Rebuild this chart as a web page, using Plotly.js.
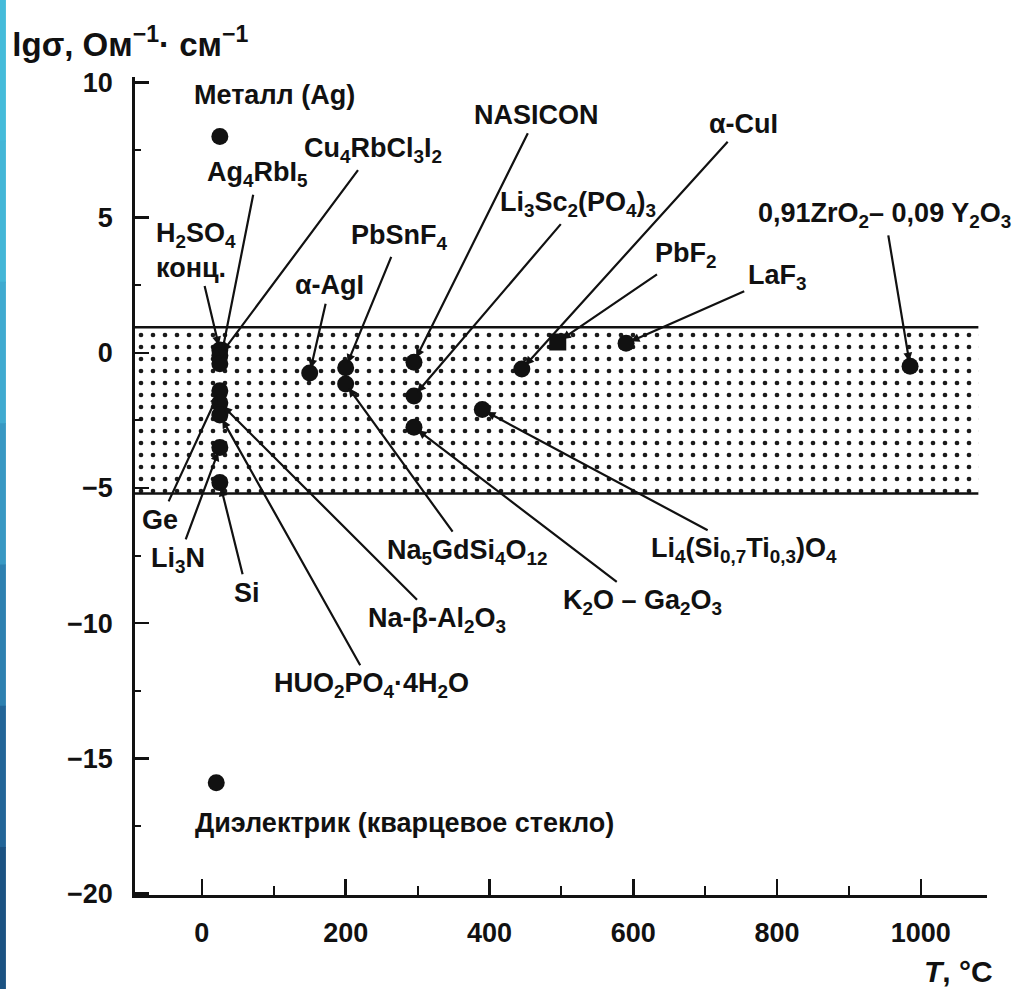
<!DOCTYPE html>
<html>
<head>
<meta charset="utf-8">
<script src="https://cdn.plot.ly/plotly-3.0.1.min.js"></script>
<style>html,body{margin:0;padding:0;background:#fff;}#chart{width:1030px;height:989px;}</style>
</head>
<body>
<div id="chart"></div>
<script>
// ---- data ----
const materials = [
  'Металл (Ag)',
  'H<sub>2</sub>SO<sub>4</sub><br>конц.',
  'Cu<sub>4</sub>RbCl<sub>3</sub>I<sub>2</sub>',
  'Ag<sub>4</sub>RbI<sub>5</sub>',
  'Ge',
  'Na-β-Al<sub>2</sub>O<sub>3</sub>',
  'HUO<sub>2</sub>PO<sub>4</sub>·4H<sub>2</sub>O',
  'Li<sub>3</sub>N',
  'Si',
  'Диэлектрик (кварцевое стекло)',
  'α-AgI',
  'PbSnF<sub>4</sub>',
  'Na<sub>5</sub>GdSi<sub>4</sub>O<sub>12</sub>',
  'NASICON',
  'Li<sub>3</sub>Sc<sub>2</sub>(PO<sub>4</sub>)<sub>3</sub>',
  'K<sub>2</sub>O – Ga<sub>2</sub>O<sub>3</sub>',
  'Li<sub>4</sub>(Si<sub>0,7</sub>Ti<sub>0,3</sub>)O<sub>4</sub>',
  'α-CuI',
  'PbF<sub>2</sub>',
  'LaF<sub>3</sub>',
  '0,91ZrO<sub>2</sub>– 0,09 Y<sub>2</sub>O<sub>3</sub>'
];
const tempC   = [25, 25, 25, 25, 25, 25, 25, 25, 25, 20, 150, 200, 200, 295, 295, 295, 390, 445, 495, 590, 985];
const lgSigma = [8.0, 0.1, -0.1, -0.4, -1.4, -1.85, -2.3, -3.5, -4.8, -15.9, -0.75, -0.55, -1.15, -0.35, -1.6, -2.75, -2.1, -0.6, 0.4, 0.35, -0.5];

// superionic conductor band (lg sigma limits) and its temperature extent
const bandLgSigma = [-5.2, 0.95];
const bandTempC = [-93, 1080];

const xTickVals = [0, 200, 400, 600, 800, 1000];
const yTickVals = [10, 5, 0, -5, -10, -15, -20];

// ---- label placement (layout only) ----
const labelPos = [
  [101, 9.55], [-8, 3.8], [238, 7.5], [77, 6.6], [-58, -6.17], [327, -9.87],
  [236, -12.3], [-33, -7.65], [63, -8.87], [282, -17.4], [178, 2.5], [275, 4.3],
  [369, -7.36], [466, 8.8], [523, 5.5], [613, -9.2], [754, -7.28], [754, 8.47],
  [673, 3.63], [800, 2.81], [950, 5.1]
];
const noArrow = [0, 9];
const markerSymbols = tempC.map((t, i) => i === 18 ? 'square' : 'circle');

const FONT = 'Liberation Sans, Arial, sans-serif';
const INK = '#111111';

const bandTrace = {
  type: 'scatter', mode: 'lines',
  x: [bandTempC[0], bandTempC[1], bandTempC[1], bandTempC[0], bandTempC[0]],
  y: [bandLgSigma[1], bandLgSigma[1], bandLgSigma[0], bandLgSigma[0], bandLgSigma[1]],
  fill: 'toself', fillcolor: 'white',
  fillpattern: {shape: '.', size: 12, solidity: 0.12, fgcolor: '#1a1a1a', bgcolor: 'white'},
  line: {width: 0}, hoverinfo: 'skip', showlegend: false
};

const pointTrace = {
  type: 'scatter', mode: 'markers',
  x: tempC, y: lgSigma, text: materials,
  marker: {color: INK, size: 17, symbol: markerSymbols, line: {width: 0}},
  hovertemplate: '%{text}<br>T=%{x} °C, lgσ=%{y}<extra></extra>',
  showlegend: false
};

const annotations = materials.map((m, i) => {
  const a = {
    text: m, font: {family: FONT, size: 27, color: INK, weight: 'bold'},
    align: 'left'
  };
  if (noArrow.includes(i)) {
    return Object.assign(a, {x: labelPos[i][0], y: labelPos[i][1], xref: 'x', yref: 'y', showarrow: false});
  }
  return Object.assign(a, {
    x: tempC[i], y: lgSigma[i], xref: 'x', yref: 'y',
    ax: labelPos[i][0], ay: labelPos[i][1], axref: 'x', ayref: 'y',
    showarrow: true, arrowhead: 2, arrowsize: 0.8, arrowwidth: 2.2, arrowcolor: INK,
    standoff: 5, startstandoff: 2
  });
});

annotations.push({
  text: '<i>T</i>, °C', xref: 'paper', yref: 'paper', x: 0.966, y: -0.094,
  xanchor: 'center', yanchor: 'middle', showarrow: false,
  font: {family: FONT, size: 30, color: INK, weight: 'bold'}
});

// decorative slide strip on the left
const stripColors = ['#45bbda', '#43b6d7', '#3faad0', '#3898c3', '#2d80b0', '#226598', '#1b5282'];
const shapes = stripColors.map((c, i) => {
  const y0 = -0.115, y1 = 1.094, h = (y1 - y0) / stripColors.length;
  return {type: 'rect', xref: 'paper', yref: 'paper', x0: -0.1585, x1: -0.1515,
          y0: y1 - (i + 1) * h, y1: y1 - i * h + 0.001, fillcolor: c, line: {width: 0}, layer: 'below'};
});
bandLgSigma.forEach(v => shapes.push({
  type: 'line', xref: 'x', yref: 'y', x0: bandTempC[0], x1: bandTempC[1], y0: v, y1: v,
  line: {color: INK, width: 2.5}
}));

const layout = {
  width: 1030, height: 989,
  margin: {l: 135, r: 43, t: 77, b: 94},
  paper_bgcolor: 'white', plot_bgcolor: 'white',
  font: {family: FONT, color: INK},
  title: {
    text: 'lgσ, Ом<sup>−1</sup>· см<sup>−1</sup>',
    xref: 'container', yref: 'container', x: 0.012, y: 0.955,
    xanchor: 'left', yanchor: 'middle',
    font: {family: FONT, size: 33, color: INK, weight: 'bold'}
  },
  xaxis: {
    range: [-93, 1092], tickvals: xTickVals, ticktext: xTickVals.map(String),
    showline: true, linecolor: INK, linewidth: 2.8, mirror: false,
    ticks: 'inside', ticklen: 16, tickwidth: 2.5, tickcolor: INK,
    minor: {dtick: 100, tick0: 0, ticks: 'inside', ticklen: 9, tickwidth: 2, tickcolor: INK, showgrid: false},
    showgrid: false, zeroline: false,
    tickfont: {family: FONT, size: 27, color: INK, weight: 'bold'}, ticklabelstandoff: 12
  },
  yaxis: {
    range: [-20.05, 10.2], tickvals: yTickVals,
    showline: true, linecolor: INK, linewidth: 2.8,
    ticks: 'inside', ticklen: 14, tickwidth: 2.5, tickcolor: INK,
    minor: {dtick: 2.5, tick0: 0, ticks: 'inside', ticklen: 6, tickwidth: 2, tickcolor: INK, showgrid: false},
    showgrid: false, zeroline: false,
    tickfont: {family: FONT, size: 27, color: INK, weight: 'bold'}, ticklabelstandoff: 14
  },
  annotations: annotations,
  shapes: shapes,
  showlegend: false
};

Plotly.newPlot('chart', [bandTrace, pointTrace], layout, {displayModeBar: false, staticPlot: true});
</script>
</body>
</html>
